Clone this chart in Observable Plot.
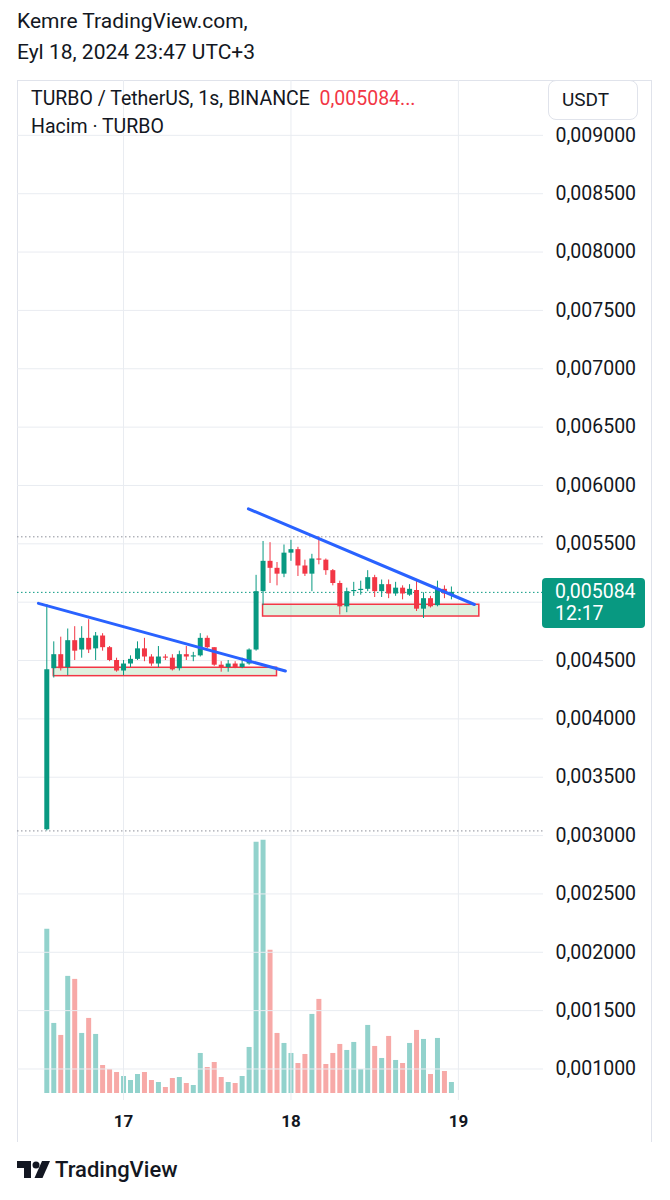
<!DOCTYPE html>
<html>
<head>
<meta charset="utf-8">
<script src="https://cdn.jsdelivr.net/npm/d3@7"></script>
<script src="https://cdn.jsdelivr.net/npm/@observablehq/plot@0.6"></script>
<style>
  html, body { margin: 0; padding: 0; background: #fff; }
  body { width: 670px; height: 1200px; position: relative; overflow: hidden;
         font-family: Roboto, "Noto Sans", sans-serif; color: #131722; }
  .abs { position: absolute; white-space: nowrap; }
  #chart { position: absolute; left: 0; top: 80px; width: 670px; height: 1065px; }
  #chart svg { position: absolute; left: 0; top: 0; }
</style>
</head>
<body>
<div class="abs" style="left:17px; top:9px; font-size:21px;">Kemre TradingView.com,</div>
<div class="abs" style="left:17px; top:40px; font-size:21px;">Eyl 18, 2024 23:47 UTC+3</div>

<div class="abs" style="left:17px; top:80px; width:635px; height:1062px; border-top:1px solid #e0e3eb; border-left:1px solid #e0e3eb; border-right:1px solid #e0e3eb; box-sizing:border-box;"></div>

<div id="chart"></div>

<div class="abs" style="left:31px; top:87px; font-size:19.5px;">TURBO / TetherUS, 1s, BINANCE&nbsp;&nbsp;<span style="color:#f23645">0,005084...</span></div>
<div class="abs" style="left:31px; top:115px; font-size:19.5px;">Hacim · TURBO</div>
<div class="abs" style="left:548px; top:80px; width:90px; height:40px; border:1px solid #e0e3eb; border-radius:8px; box-sizing:border-box; background:#fff; font-size:19px; line-height:38px; padding-left:13px;">USDT</div>

<div id="lastLabel" class="abs" style="left:542px; width:103px; height:50px; background:#089981; border-radius:4px; color:#fff; font-size:19.5px; line-height:22px; padding:3px 0 0 13px; box-sizing:border-box;">0,005084<br>12:17</div>

<div class="abs" style="left:17px; top:1159px;">
  <svg width="34" height="22" viewBox="0 0 34 22">
    <path d="M0 2h14v17h-7v-10h-7z" fill="#131722"/>
    <circle cx="19" cy="6" r="3.5" fill="#131722"/>
    <path d="M25 2h8l-7.5 17h-8z" fill="#131722"/>
  </svg>
</div>
<div class="abs" style="left:55px; top:1157px; font-size:22px; font-weight:500;">TradingView</div>

<script>
// ---- data (1-hour candles, UTC+3 shown as plain times) ----
const firstCandle = Date.UTC(2024, 8, 16, 13);
const openP  = [0.00305,0.00443,0.00455,0.00444,0.00467,0.00459,0.00469,0.00460,0.00471,0.00461,
                0.00450,0.00441,0.00447,0.00451,0.00460,0.00453,0.00447,0.00453,0.00452,0.00443,
                0.00455,0.00453,0.00454,0.00469,0.00461,0.00446,0.00444,0.00447,0.00444,0.00447,
                0.00459,0.00509,0.00535,0.00529,0.00524,0.00542,0.00545,0.00531,0.00524,0.00537,
                0.00536,0.00527,0.00516,0.00496,0.00509,0.00510,0.00511,0.00521,0.00509,0.00515,
                0.00507,0.00512,0.00506,0.00510,0.00494,0.00503,0.00497,0.00511,0.005066];
const highP  = [0.00498,0.00466,0.00470,0.00477,0.00479,0.00479,0.00485,0.00474,0.00473,0.00462,
                0.00452,0.00450,0.00454,0.00466,0.00469,0.00455,0.00462,0.00455,0.00455,0.00458,
                0.00462,0.00457,0.00473,0.00471,0.00461,0.00449,0.00450,0.00449,0.00452,0.00460,
                0.00523,0.00552,0.00551,0.00534,0.00549,0.00553,0.00547,0.00536,0.00541,0.00556,
                0.00537,0.00528,0.00518,0.00512,0.00517,0.00518,0.00527,0.00523,0.00519,0.00519,
                0.00517,0.00514,0.00515,0.00519,0.00508,0.00505,0.00518,0.00514,0.00513];
const lowP   = [0.00304,0.00435,0.00441,0.00437,0.00450,0.00452,0.00456,0.00450,0.00458,0.00449,
                0.00440,0.00437,0.00444,0.00450,0.00449,0.00445,0.00444,0.00450,0.00441,0.00441,
                0.00450,0.00449,0.00453,0.00460,0.00445,0.00440,0.00440,0.00443,0.00443,0.00446,
                0.00458,0.00497,0.00516,0.00514,0.00521,0.00535,0.00522,0.00522,0.00509,0.00532,
                0.00523,0.00514,0.00489,0.00491,0.00505,0.00506,0.00509,0.00504,0.00504,0.00503,
                0.00505,0.00502,0.00505,0.00492,0.00486,0.00495,0.00496,0.00503,0.00502];
const closeP = [0.00442,0.00455,0.00443,0.00467,0.00458,0.00469,0.00459,0.00471,0.00461,0.00450,
                0.00441,0.00447,0.00451,0.00460,0.00453,0.00447,0.00453,0.00452,0.00442,0.00455,
                0.00453,0.00454,0.00469,0.00461,0.00446,0.00444,0.00447,0.00444,0.00447,0.00459,
                0.00509,0.00535,0.00529,0.00524,0.00542,0.00545,0.00531,0.00524,0.00537,0.00536,
                0.00527,0.00516,0.00496,0.00509,0.00510,0.00511,0.00521,0.00509,0.00515,0.00507,
                0.00512,0.00507,0.00511,0.00494,0.00503,0.00496,0.00511,0.00507,0.005084];
const volumeM = [164,70,58,117,114,60,75,59,28,24,21,17,13,19,21,13,11,6,15,16,
                 10,8,40,26,31,16,11,10,17,46,251,253,143,60,50,40,30,39,79,94,
                 29,40,49,43,51,24,68,47,35,57,33,30,50,63,54,19,55,22,11];

const priceTicks = [0.001,0.0015,0.002,0.0025,0.003,0.0035,0.004,0.0045,0.005,
                    0.0055,0.006,0.0065,0.007,0.0075,0.008,0.0085,0.009];
const dayTicks = [new Date(Date.UTC(2024,8,17)), new Date(Date.UTC(2024,8,18)), new Date(Date.UTC(2024,8,19))];
const viewTime = [new Date(Date.UTC(2024,8,16,8,48)), new Date(Date.UTC(2024,8,19,12,12))];
const viewPrice = [0.00073, 0.00947];

// drawings
const trend1 = [{t: new Date(Date.UTC(2024,8,16,11,48)), p: 0.00499}, {t: new Date(Date.UTC(2024,8,17,23,12)), p: 0.00441}];
const trend2 = [{t: new Date(Date.UTC(2024,8,17,17,54)), p: 0.00580}, {t: new Date(Date.UTC(2024,8,19,2,18)), p: 0.00498}];
const zones = [
  {t1: new Date(Date.UTC(2024,8,16,14)), t2: new Date(Date.UTC(2024,8,17,22)), top: 0.004438, bottom: 0.004366},
  {t1: new Date(Date.UTC(2024,8,17,20)), t2: new Date(Date.UTC(2024,8,19,3)), top: 0.004978, bottom: 0.004877}
];

const UP = "#089981", DOWN = "#f23645", VUP = "#92d2cc", VDOWN = "#f7a9a7";

const candles = openP.map((o, i) => ({
  t: new Date(firstCandle + i * 3600e3),
  open: o, high: highP[i], low: lowP[i], close: closeP[i], vol: volumeM[i],
  up: closeP[i] >= o
}));
const hi = d3.max(highP), lo = d3.min(lowP), last = closeP[closeP.length - 1];
const fmt = v => d3.format(".6f")(v).replace(".", ",");
// the last-price label hides the axis label that sits under it
const labelTicks = priceTicks.filter(p => Math.abs(p - last) > 0.0002);

const W = 670, H = 1065, ML = 17, MR = 127;

const volPlot = Plot.plot({
  width: W, height: 1013, marginLeft: ML, marginRight: MR, marginTop: 0, marginBottom: 0,
  style: {background: "transparent"},
  x: {type: "utc", domain: viewTime, axis: null},
  y: {domain: [0, d3.max(volumeM) / 0.25], axis: null},
  marks: [
    Plot.ruleX(candles, {x: "t", y1: 0, y2: "vol", stroke: d => d.up ? VUP : VDOWN, strokeWidth: 5})
  ]
});

const main = Plot.plot({
  width: W, height: H, marginLeft: ML, marginRight: MR, marginTop: 0, marginBottom: 45,
  style: {background: "transparent", fontFamily: "Roboto, 'Noto Sans', sans-serif", color: "#131722", overflow: "visible"},
  x: {type: "utc", domain: viewTime},
  y: {domain: viewPrice},
  marks: [
    Plot.gridY(priceTicks, {stroke: "#e9ecf1", strokeOpacity: 1}),
    Plot.gridX(dayTicks, {stroke: "#e9ecf1", strokeOpacity: 1}),
    Plot.ruleY([hi, lo], {stroke: "#8c8f99", strokeDasharray: "1.5,2.5"}),
    Plot.ruleY([last], {stroke: UP, strokeDasharray: "1.5,2.5"}),
    Plot.rect(zones, {x1: "t1", x2: "t2", y1: "bottom", y2: "top", fill: "#4caf50", fillOpacity: 0.18, stroke: DOWN, strokeWidth: 1.5}),
    Plot.ruleX(candles, {x: "t", y1: "low", y2: "high", stroke: d => d.up ? UP : DOWN, strokeWidth: 1}),
    Plot.ruleX(candles, {x: "t", y1: "open", y2: "close", stroke: d => d.up ? UP : DOWN, strokeWidth: 5}),
    Plot.line(trend1, {x: "t", y: "p", stroke: "#2962ff", strokeWidth: 3}),
    Plot.line(trend2, {x: "t", y: "p", stroke: "#2962ff", strokeWidth: 3}),
    Plot.axisY(labelTicks, {anchor: "right", tickSize: 0, tickPadding: 12, tickFormat: fmt, fontSize: 19.5, label: null}),
    Plot.axisX(dayTicks, {anchor: "bottom", tickSize: 0, tickPadding: 14, tickFormat: d => String(d.getUTCDate()), fontSize: 17, fontWeight: "bold", label: null})
  ]
});

const chart = document.getElementById("chart");
chart.appendChild(volPlot);
chart.appendChild(main);

const yLast = main.scale("y").apply(last);
document.getElementById("lastLabel").style.top = (80 + yLast - 14) + "px";
</script>
</body>
</html>
